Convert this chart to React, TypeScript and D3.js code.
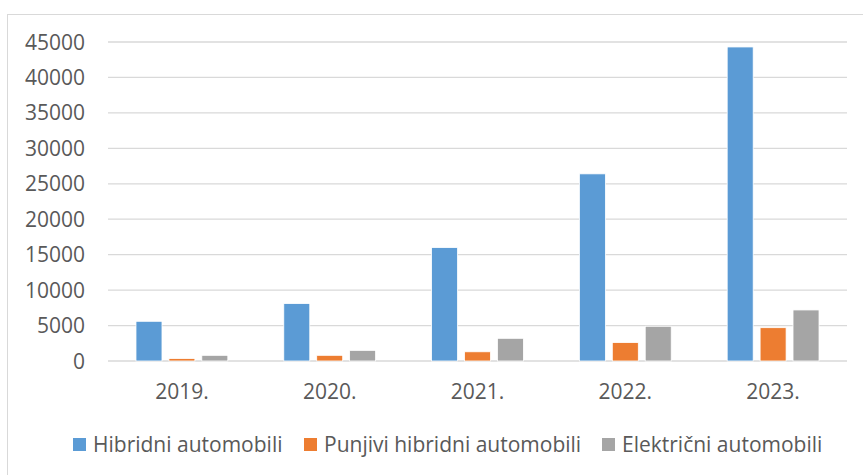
import React, { useEffect, useRef } from 'react';
import * as d3 from 'd3';

const years = ['2019.', '2020.', '2021.', '2022.', '2023.'];
const seriesNames = ['Hibridni automobili', 'Punjivi hibridni automobili', 'Električni automobili'];
const hibridni = [5600, 8100, 16000, 26400, 44300];
const punjivi = [350, 800, 1300, 2600, 4700];
const elektricni = [800, 1500, 3200, 4900, 7200];
const yTicks = [0, 5000, 10000, 15000, 20000, 25000, 30000, 35000, 40000, 45000];
const colors = ['#5b9bd5', '#ed7d31', '#a5a5a5'];

const W = 863;
const H = 475;
const font = "'Open Sans', sans-serif";

const App = () => {
    const svgRef = useRef<SVGSVGElement>(null);

    useEffect(() => {
        const svg = d3.select(svgRef.current);
        svg.selectAll('*').remove();

        const series = [hibridni, punjivi, elektricni];
        const margin = { left: 108, right: 16, top: 42, bottom: 114 };

        // outer chart border
        svg.append('rect')
            .attr('x', 7.5).attr('y', 14.5)
            .attr('width', W - 7).attr('height', H - 14)
            .attr('fill', '#fff').attr('stroke', '#d9d9d9');

        const y = d3.scaleLinear().domain([0, 45000]).range([H - margin.bottom, margin.top]);
        const x0 = d3.scaleBand().domain(years).range([margin.left, W - margin.right]).paddingInner(0).paddingOuter(0);
        const x1 = d3.scaleBand().domain(['0', '1', '2']).range([0, x0.bandwidth()]).paddingOuter(0.85).paddingInner(0.21);

        svg.append('g').selectAll('line').data(yTicks).enter().append('line')
            .attr('x1', margin.left).attr('x2', W - margin.right)
            .attr('y1', d => y(d)).attr('y2', d => y(d))
            .attr('stroke', '#d9d9d9').attr('stroke-width', 1.3);

        svg.append('g').selectAll('text').data(yTicks).enter().append('text')
            .attr('x', 85).attr('y', d => y(d))
            .attr('dy', '0.36em').attr('text-anchor', 'end')
            .style('font-family', font).style('font-size', '21px').attr('fill', '#595959')
            .text(d => d);

        const groups = svg.append('g').selectAll('g').data(years).enter().append('g')
            .attr('transform', d => `translate(${x0(d)},0)`);

        groups.selectAll('rect')
            .data((d, i) => series.map((s, k) => ({ k, v: s[i] })))
            .enter().append('rect')
            .attr('x', d => x1(String(d.k)))
            .attr('width', x1.bandwidth())
            .attr('y', d => y(d.v))
            .attr('height', d => y(0) - y(d.v))
            .attr('fill', d => colors[d.k])
            .attr('stroke', '#fff').attr('stroke-width', 0.8);

        svg.append('g').selectAll('text').data(years).enter().append('text')
            .attr('x', d => x0(d) + x0.bandwidth() / 2).attr('y', 399)
            .attr('text-anchor', 'middle')
            .style('font-family', font).style('font-size', '21px').attr('fill', '#595959')
            .text(d => d);

        const legendX = [73, 304, 602];
        const legend = svg.append('g').selectAll('g').data(seriesNames).enter().append('g')
            .attr('transform', (d, i) => `translate(${legendX[i]},452)`);
        legend.append('rect').attr('x', 0).attr('y', -14).attr('width', 13).attr('height', 13)
            .attr('fill', (d, i) => colors[i]);
        legend.append('text').attr('x', 20).attr('y', 0)
            .style('font-family', font).style('font-size', '21px').attr('fill', '#595959')
            .text(d => d);
    }, []);

    return (
        <div style={{ position: 'fixed', left: 0, top: 0, width: W, height: H, background: '#fff' }}>
            <svg ref={svgRef} width={W} height={H} />
        </div>
    );
};

export default App;
